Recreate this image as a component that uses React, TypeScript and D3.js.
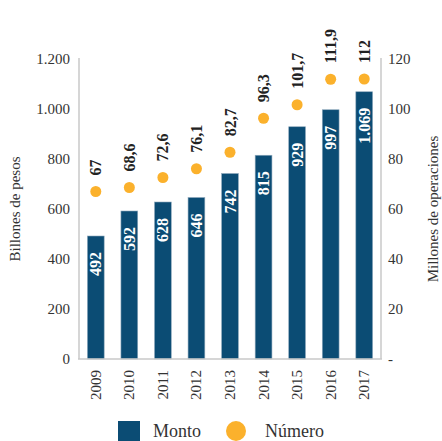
import React from "react";
import * as d3 from "d3";

const years = ["2009", "2010", "2011", "2012", "2013", "2014", "2015", "2016", "2017"];
const monto = [492, 592, 628, 646, 742, 815, 929, 997, 1069];
const numero = [67, 68.6, 72.6, 76.1, 82.7, 96.3, 101.7, 111.9, 112];
const leftTicks = [0, 200, 400, 600, 800, 1000, 1200];
const rightTicks = [0, 20, 40, 60, 80, 100, 120];

const W = 442;
const H = 441;
const M = { left: 79, right: 381, top: 59, bottom: 359 };
const BAR = "#0b4c74";
const DOT = "#fbb12c";
const AXIS = "#c8c8c8";
const FONT = "'Liberation Serif', 'DejaVu Serif', serif";

const fmtThousands = (v: number) => d3.format(",")(v).replace(/,/g, ".");
const fmtDec = (v: number) => (Number.isInteger(v) ? String(v) : String(v).replace(".", ","));

export default function App() {
  const x = d3.scaleBand<string>().domain(years).range([M.left, M.right]).paddingInner(0.5).paddingOuter(0.25);
  const yL = d3.scaleLinear().domain([0, 1200]).range([M.bottom, M.top]);
  const yR = d3.scaleLinear().domain([0, 120]).range([M.bottom, M.top]);
  const bw = x.bandwidth();

  return (
    <svg width={W} height={H} style={{ position: "absolute", left: 0, top: 0, background: "#fff" }} fontFamily={FONT}>
      {/* bars */}
      {years.map((yr, i) => {
        const x0 = x(yr)!;
        const top = yL(monto[i]);
        const cx = x0 + bw / 2;
        return (
          <g key={yr}>
            <rect x={x0} y={top} width={bw} height={M.bottom - top} fill={BAR} stroke="#8fa9bd" strokeWidth={0.6} />
            <text
              transform={`translate(${cx + 5.5},${top + 16}) rotate(-90)`}
              textAnchor="end"
              fill="#fff"
              fontWeight="bold"
              fontSize={16}
            >
              {fmtThousands(monto[i])}
            </text>
          </g>
        );
      })}
      {/* dots */}
      {years.map((yr, i) => {
        const cx = x(yr)! + bw / 2;
        const cy = yR(numero[i]);
        return (
          <g key={"d" + yr}>
            <circle cx={cx} cy={cy} r={5.5} fill={DOT} />
            <text
              transform={`translate(${cx + 5.5},${cy - 16}) rotate(-90)`}
              textAnchor="start"
              fill="#222"
              fontWeight="bold"
              fontSize={16}
            >
              {fmtDec(numero[i])}
            </text>
          </g>
        );
      })}
      {/* axes */}
      <line x1={M.left} x2={M.left} y1={M.top - 1} y2={M.bottom} stroke={AXIS} strokeWidth={1.5} />
      <line x1={M.right} x2={M.right} y1={M.top - 1} y2={M.bottom} stroke={AXIS} strokeWidth={1.5} />
      <line x1={M.left - 1} x2={M.right + 1} y1={M.bottom} y2={M.bottom} stroke={AXIS} strokeWidth={1.5} />
      {leftTicks.map((t) => (
        <text key={"l" + t} x={70} y={yL(t)} dy="0.35em" textAnchor="end" fontSize={15} fill="#333">
          {fmtThousands(t)}
        </text>
      ))}
      {rightTicks.map((t) => (
        <text key={"r" + t} x={388} y={yR(t)} dy="0.35em" textAnchor="start" fontSize={15} fill="#333">
          {t === 0 ? "-" : String(t)}
        </text>
      ))}
      {years.map((yr) => (
        <text
          key={"x" + yr}
          transform={`translate(${x(yr)! + bw / 2 + 5},${M.bottom + 11}) rotate(-90)`}
          textAnchor="end"
          fontSize={15}
          fill="#333"
        >
          {yr}
        </text>
      ))}
      {/* axis titles */}
      <text transform={`translate(20,${(M.top + M.bottom) / 2}) rotate(-90)`} textAnchor="middle" fontSize={15} fill="#333">
        Billones de pesos
      </text>
      <text transform={`translate(438,${(M.top + M.bottom) / 2}) rotate(-90)`} textAnchor="middle" fontSize={15} fill="#333">
        Millones de operaciones
      </text>
      {/* legend */}
      <rect x={118} y={421} width={22} height={20} fill={BAR} />
      <text x={153} y={437} fontSize={18} fill="#333">Monto</text>
      <circle cx={236} cy={431} r={10} fill={DOT} />
      <text x={265} y={437} fontSize={18} fill="#333">Número</text>
    </svg>
  );
}
